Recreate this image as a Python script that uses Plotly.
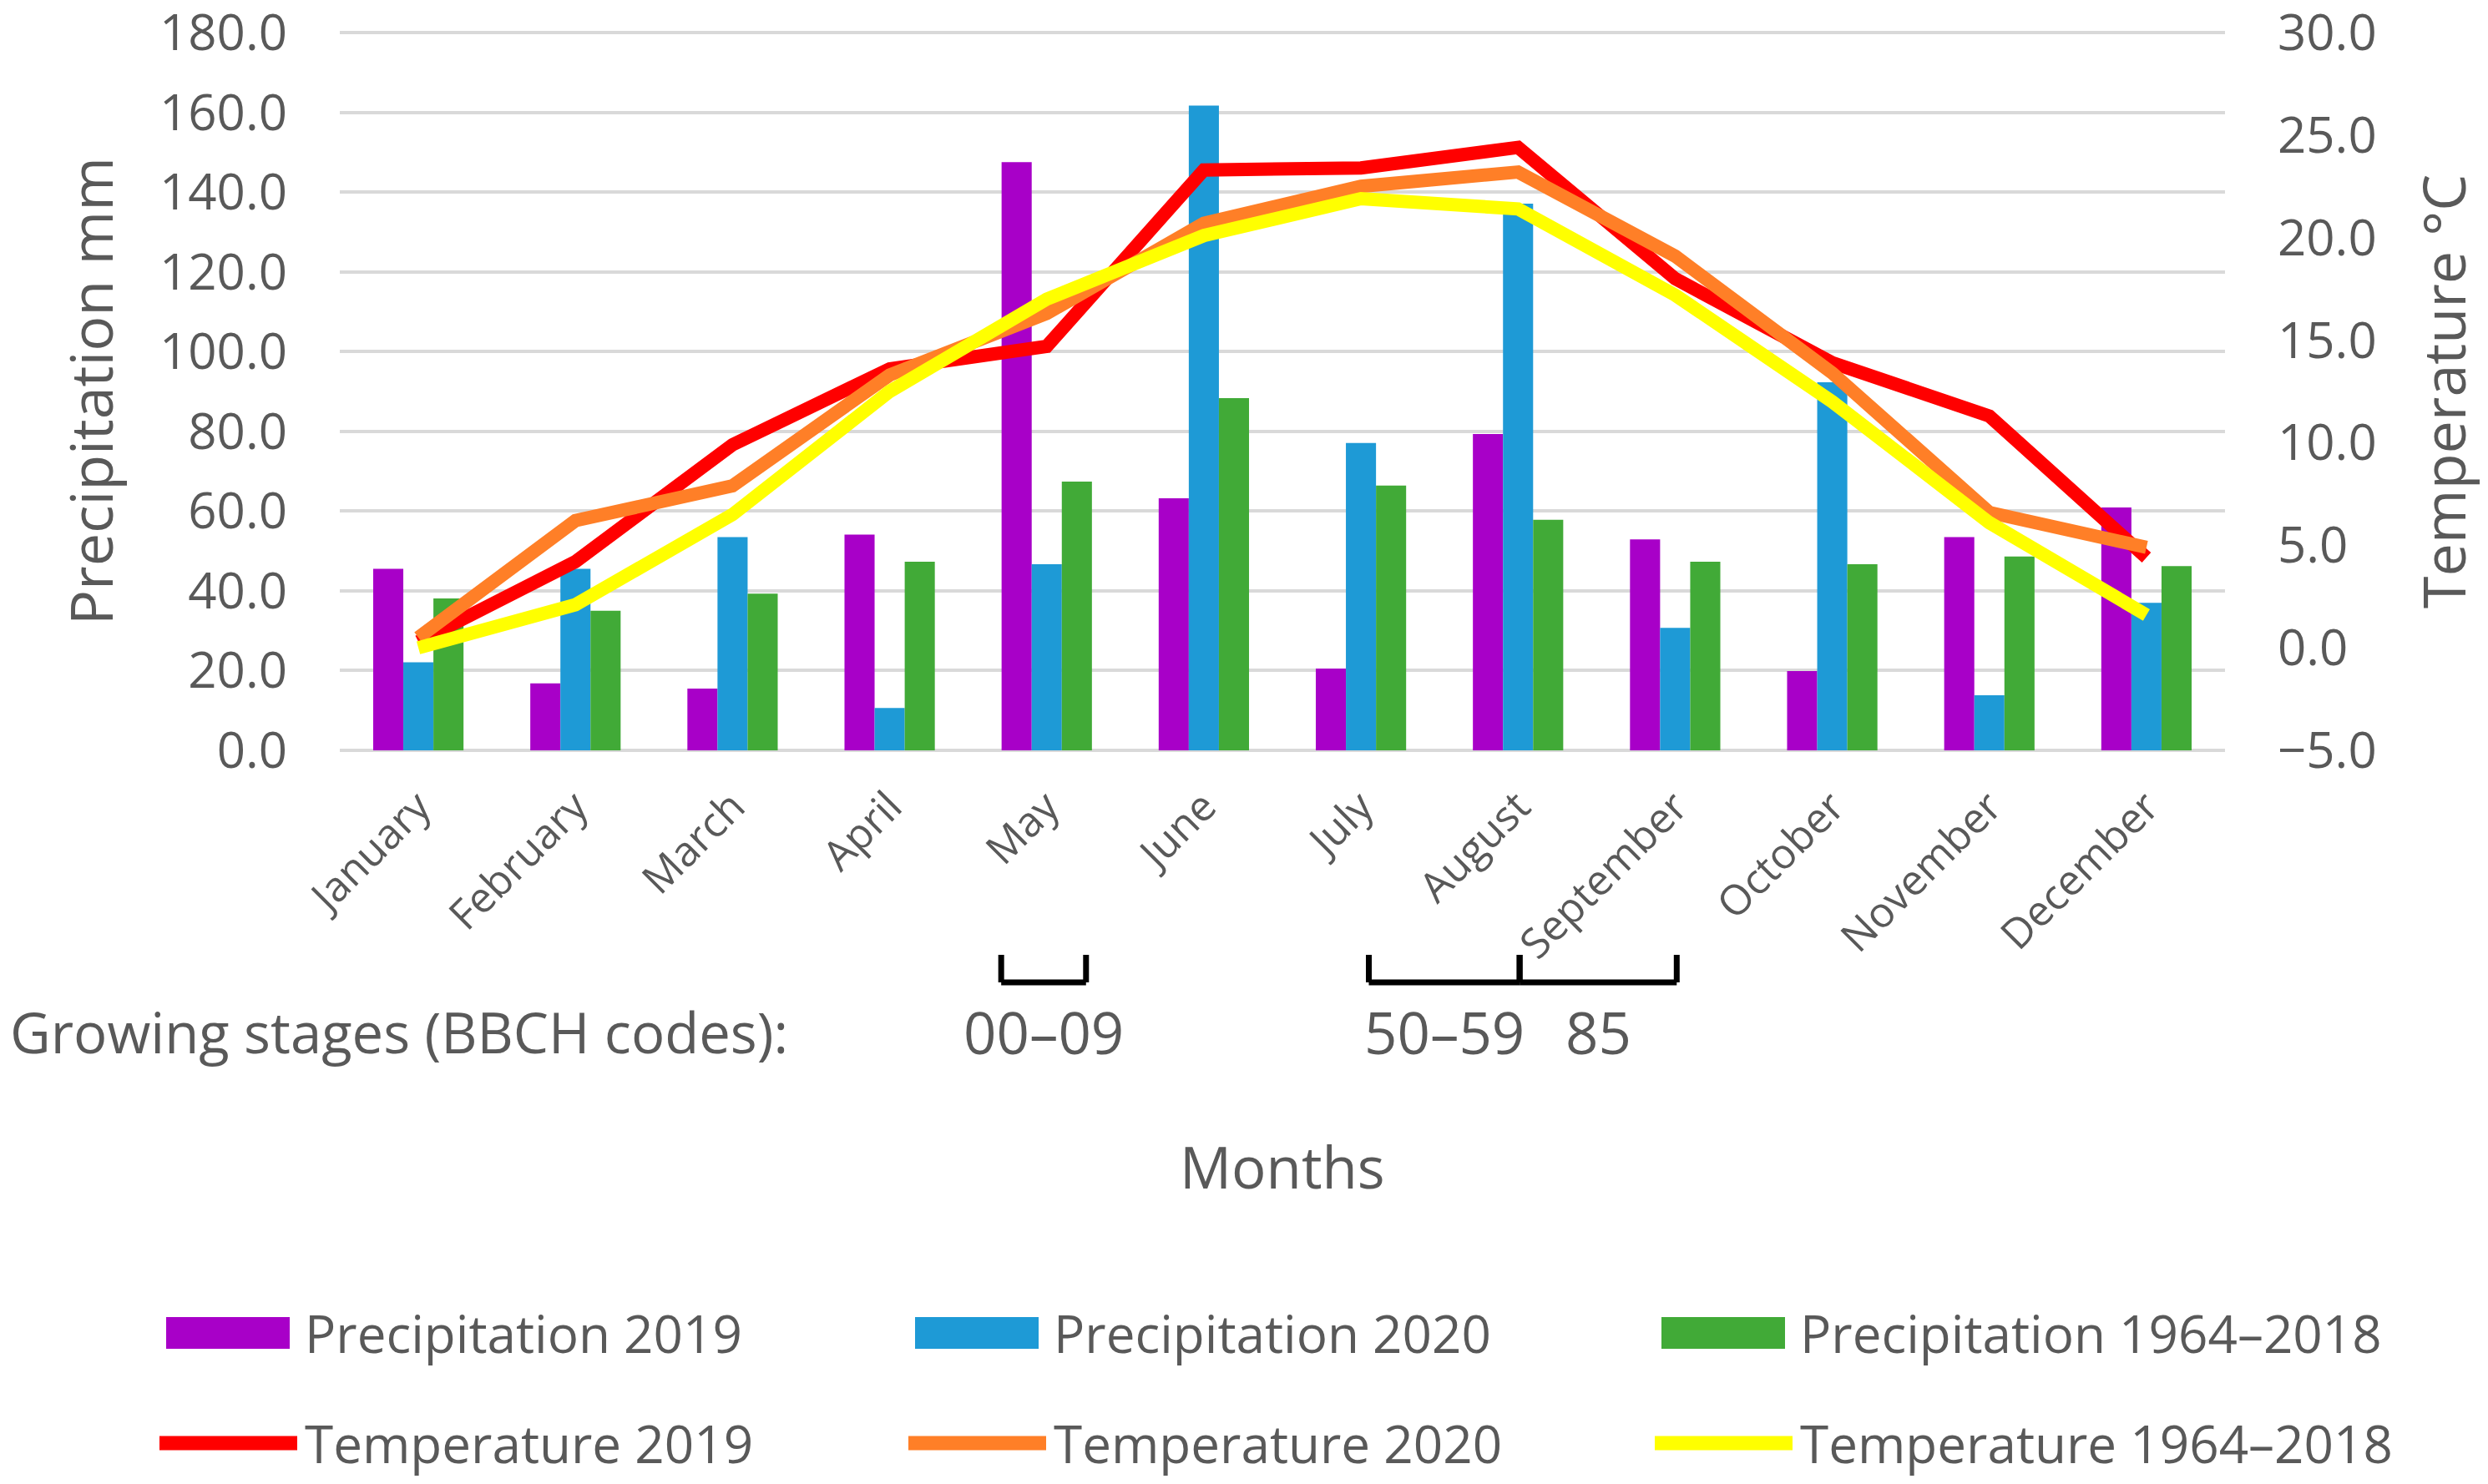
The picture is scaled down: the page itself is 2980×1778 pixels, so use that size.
import plotly.graph_objects as go

# monthly data
months = [
    "January", "February", "March", "April", "May", "June",
    "July", "August", "September", "October", "November", "December",
]
precip_2019 = [45.5, 16.8, 15.5, 54.1, 147.5, 63.2, 20.5, 79.3, 52.9, 19.9, 53.5, 60.9]
precip_2020 = [22.1, 45.5, 53.5, 10.6, 46.7, 161.7, 77.1, 137.1, 30.7, 92.3, 13.8, 37.0]
precip_1964_2018 = [38.1, 35.0, 39.3, 47.3, 67.4, 88.3, 66.4, 57.8, 47.3, 46.7, 48.6, 46.2]
temp_2019 = [0.3, 4.2, 9.9, 13.6, 14.7, 23.3, 23.4, 24.4, 18.0, 13.9, 11.3, 4.4]
temp_2020 = [0.5, 6.2, 7.9, 13.3, 16.3, 20.7, 22.5, 23.2, 19.1, 13.4, 6.6, 4.9]
temp_1964_2018 = [0.0, 2.1, 6.5, 12.5, 17.0, 20.1, 21.9, 21.4, 17.2, 12.0, 6.1, 1.6]

precip_ticks = [0, 20, 40, 60, 80, 100, 120, 140, 160, 180]
temp_ticks = [-5, 0, 5, 10, 15, 20, 25, 30]

# BBCH growing stage brackets (in month index units)
bbch_labels = ["00–09", "50–59", "85"]
bbch_start = [3.71, 6.05, 7.01]
bbch_end = [4.25, 7.01, 8.01]

bar_names = ["Precipitation 2019", "Precipitation 2020", "Precipitation 1964–2018"]
line_names = ["Temperature 2019", "Temperature 2020", "Temperature 1964–2018"]
bar_colours = ["#A800C8", "#1E9AD6", "#41AA37"]
line_colours = ["#FF0000", "#FF7F27", "#FFFF00"]

GREY = "#595959"
OFF = 8  # browser body margin
W, H = 2980 - OFF, 1778 - OFF
L, R, T, B = 407, 2665, 39, 899  # page pixels of the 180 / 0 gridlines
EXTRA = 3  # grow the plot area a little so the end gridlines are drawn
PT, PB = T - EXTRA, B + EXTRA

# axis ranges padded by EXTRA pixels on each side
pad1 = EXTRA * (precip_ticks[-1] - precip_ticks[0]) / (B - T)
pad2 = EXTRA * (temp_ticks[-1] - temp_ticks[0]) / (B - T)


def px_x(x):
    return (x - L) / (R - L)


def px_y(y):
    return (PB - y) / (PB - PT)


fig = go.Figure()
for name, vals, col in zip(bar_names, [precip_2019, precip_2020, precip_1964_2018], bar_colours):
    fig.add_trace(
        go.Bar(x=months, y=vals, name=name, marker=dict(color=col, line=dict(width=0)))
    )
for name, vals, col in zip(line_names, [temp_2019, temp_2020, temp_1964_2018], line_colours):
    fig.add_trace(
        go.Scatter(x=months, y=vals, name=name, mode="lines",
                   line=dict(color=col, width=16), yaxis="y2")
    )

shapes = []
annotations = []
top, bottom = px_y(1144), px_y(1177)
for lab, x0, x1 in zip(bbch_labels, bbch_start, bbch_end):
    for sx0, sy0, sx1, sy1 in [(x0, top, x0, bottom), (x0, bottom, x1, bottom), (x1, bottom, x1, top)]:
        shapes.append(dict(type="line", xref="x", yref="paper", x0=sx0, y0=sy0, x1=sx1, y1=sy1,
                           line=dict(color="#000000", width=7)))
    annotations.append(dict(text=lab, xref="x", yref="paper", x=(x0 + x1) / 2, y=px_y(1236),
                            xanchor="center", yanchor="middle", showarrow=False,
                            font=dict(size=69, color=GREY)))

annotations.append(dict(text="Growing stages (BBCH codes):", xref="paper", yref="paper",
                        x=px_x(10), y=px_y(1236), xanchor="left", yanchor="middle",
                        showarrow=False, font=dict(size=67, color=GREY)))
annotations.append(dict(text="Months", xref="paper", yref="paper", x=0.5, y=px_y(1397),
                        xanchor="center", yanchor="middle", showarrow=False,
                        font=dict(size=69, color=GREY)))
annotations.append(dict(text="Precipitation mm", xref="paper", yref="paper", x=px_x(108),
                        y=px_y((T + B) / 2), textangle=-90, xanchor="center", yanchor="middle",
                        showarrow=False, font=dict(size=70, color=GREY)))
annotations.append(dict(text="Temperature °C", xref="paper", yref="paper", x=px_x(2926),
                        y=px_y((T + B) / 2), textangle=-90, xanchor="center", yanchor="middle",
                        showarrow=False, font=dict(size=70, color=GREY)))

# hand-made legend, three columns and two rows
col_x = [199, 1096, 1990]
row_y = [1597, 1729]
for i in range(3):
    x0 = col_x[i]
    shapes.append(dict(type="rect", xref="paper", yref="paper", x0=px_x(x0), x1=px_x(x0 + 148),
                       y0=px_y(row_y[0] - 19), y1=px_y(row_y[0] + 19),
                       fillcolor=bar_colours[i], line=dict(width=0)))
    annotations.append(dict(text=bar_names[i], xref="paper", yref="paper", x=px_x(x0 + 164),
                            y=px_y(row_y[0]), xanchor="left", yanchor="middle", showarrow=False,
                            font=dict(size=62, color=GREY)))
    shapes.append(dict(type="line", xref="paper", yref="paper", x0=px_x(x0 - 8), x1=px_x(x0 + 157),
                       y0=px_y(row_y[1]), y1=px_y(row_y[1]),
                       line=dict(color=line_colours[i], width=17)))
    annotations.append(dict(text=line_names[i], xref="paper", yref="paper", x=px_x(x0 + 164),
                            y=px_y(row_y[1]), xanchor="left", yanchor="middle", showarrow=False,
                            font=dict(size=62, color=GREY)))

fig.update_layout(
    width=W,
    height=H,
    autosize=False,
    margin=dict(l=L - OFF, r=W - (R - OFF), t=PT - OFF, b=H - (PB - OFF), pad=0),
    paper_bgcolor="white",
    plot_bgcolor="white",
    font=dict(family="Open Sans", color=GREY),
    barmode="group",
    bargap=0.425,
    bargroupgap=0,
    showlegend=False,
    xaxis=dict(tickangle=-45, tickfont=dict(size=50, color=GREY), showgrid=False,
               showline=False, ticks="", ticklabelstandoff=24, automargin=False),
    yaxis=dict(range=[precip_ticks[0] - pad1, precip_ticks[-1] + pad1], tickmode="array",
               tickvals=precip_ticks, tickformat=".1f", gridcolor="#D9D9D9", gridwidth=4,
               zeroline=False, showline=False, tickfont=dict(size=60, color=GREY),
               ticklabelstandoff=62, ticklabeloverflow="allow", automargin=False),
    yaxis2=dict(range=[temp_ticks[0] - pad2, temp_ticks[-1] + pad2], tickmode="array",
                tickvals=temp_ticks, tickformat=".1f", overlaying="y", side="right",
                showgrid=False, zeroline=False, showline=False,
                tickfont=dict(size=60, color=GREY), ticklabelstandoff=62,
                ticklabeloverflow="allow", automargin=False),
    shapes=shapes,
    annotations=annotations,
)

fig.write_html("out.html")
